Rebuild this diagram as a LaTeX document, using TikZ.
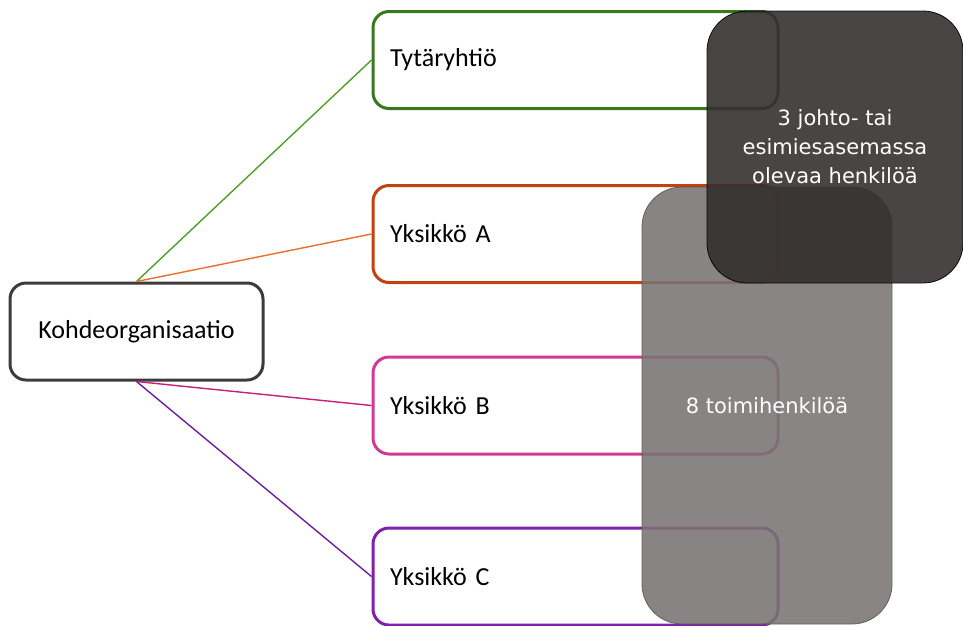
\documentclass[tikz,border=0pt]{standalone}
\usepackage{fontspec}
\setmainfont{Carlito}
\newfontfamily\notefont{DejaVu Sans}
\usetikzlibrary{positioning}

\begin{document}
\begin{tikzpicture}[x=1pt, y=-1pt,
		every node/.style={font=\fontsize{26}{31}\selectfont},
		box/.style={draw, line width=3pt, rounded corners=16pt, fill=white, minimum height=97pt},
		unit/.style={box, inner xsep=17pt, text width=371pt, align=left},
		link/.style={line width=1.4pt},
		group/.style={rounded corners=40pt, inner sep=0pt, line width=0.8pt, text=white, text opacity=1, align=center, font=\notefont\fontsize{21}{29}\selectfont}]
		% Define colors
		\definecolor{rootline}{RGB}{60, 60, 60}
		\definecolor{unit1}{RGB}{58, 120, 30}
		\definecolor{unit2}{RGB}{196, 65, 16}
		\definecolor{unit3}{RGB}{208, 58, 148}
		\definecolor{unit4}{RGB}{128, 32, 172}
		\definecolor{link1}{RGB}{78, 160, 40}
		\definecolor{link2}{RGB}{232, 112, 42}
		\definecolor{link3}{RGB}{200, 30, 120}
		\definecolor{link4}{RGB}{110, 30, 160}
		\definecolor{staff}{RGB}{121, 116, 115}
		\definecolor{heads}{RGB}{50, 46, 46}
		
		\useasboundingbox (0, 0) rectangle (963, 625);
		
		% Organisation and its units
		\node[box, draw=rootline, minimum width=253pt] (kohde) at (136.5, 331.5) {Kohdeorganisaatio};
		\node[unit, draw=unit1] (tytar) at (575.5, 60) {Tytäryhtiö};
		\node[unit, draw=unit2] (yksA) at (575.5, 234) {Yksikkö A};
		\node[unit, draw=unit3] (yksB) at (575.5, 405.5) {Yksikkö B};
		\node[unit, draw=unit4] (yksC) at (575.5, 576.5) {Yksikkö C};
		
		% Connectors
		\draw[link, link1] (kohde.north) -- (tytar.west);
		\draw[link, link2] (kohde.north) -- (yksA.west);
		\draw[link, link3] (kohde.south) -- (yksB.west);
		\draw[link, link4] (kohde.south) -- (yksC.west);
		
		% Personnel overlays
		\node[group, fill=staff, fill opacity=0.88, draw=heads!80, draw opacity=0.9, minimum width=250pt, minimum height=437pt] (toimi) at (767, 405.5) {8 toimihenkilöä};
		\node[group, fill=heads, fill opacity=0.89, draw=black, draw opacity=0.9, minimum width=256pt, minimum height=272pt] (johto) at (835, 147) {3 johto- tai\\esimiesasemassa\\olevaa henkilöä};
		
	\end{tikzpicture}
\end{document}
